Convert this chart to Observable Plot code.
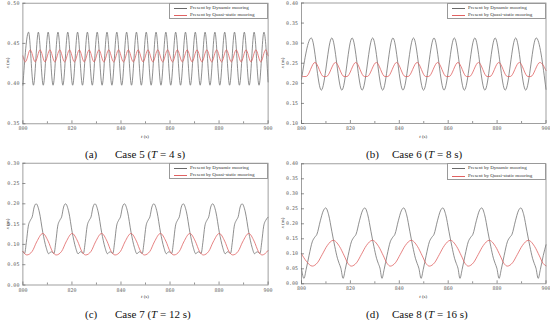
<!DOCTYPE html>
<html><head><meta charset="utf-8">
<script src="https://cdn.jsdelivr.net/npm/d3@7"></script>
<script src="https://cdn.jsdelivr.net/npm/@observablehq/plot@0.6"></script>
<style>
body{margin:0;background:#fff;}
#root{position:relative;width:550px;height:320px;overflow:hidden;background:#fff;}
.panel{position:absolute;width:275px;height:160px;}
.panel svg{position:absolute;left:0;top:0;}
.legend{position:absolute;box-sizing:border-box;border:0.7px solid #999;background:#fff;font-family:"Liberation Serif",serif;font-size:5px;color:#333;}
.legend .row{position:absolute;left:0;right:0;height:6px;line-height:6px;white-space:nowrap;}
.legend .sw{position:absolute;left:4px;width:13px;top:3px;height:0;border-top:0.8px solid #666;}
.legend .tx{position:absolute;left:20px;top:0;}
.ylab{position:absolute;font-family:"Liberation Serif",serif;font-size:5px;color:#333;white-space:nowrap;transform:translate(-50%,-50%) rotate(-90deg);}
.xlab{position:absolute;font-family:"Liberation Serif",serif;font-size:5px;color:#333;white-space:nowrap;transform:translate(-50%,-50%);}
.cap{position:absolute;font-family:"Liberation Serif",serif;font-size:11px;color:#111;white-space:nowrap;line-height:12px;}
</style></head><body><div id="root"></div><script>
// ---------- data ----------
const xTicks = [800, 820, 840, 860, 880, 900];
const xMinor = [810, 830, 850, 870, 890];
const legendLabels = ["Present by Dynamic mooring", "Present by Quasi-static mooring"];
const captionTags = ["(a)", "(b)", "(c)", "(d)"];
const caseNames = ["Case 5", "Case 6", "Case 7", "Case 8"];
const periods = [4, 8, 12, 16];
const yTicksA = [0.35, 0.40, 0.45, 0.50];
const yTicksB = [0.10, 0.15, 0.20, 0.25, 0.30, 0.35, 0.40];
const yTicksC = [0.00, 0.05, 0.10, 0.15, 0.20, 0.25, 0.30];
const yTicksD = [0.00, 0.05, 0.10, 0.15, 0.20, 0.25, 0.30, 0.35, 0.40];

// (a) Case 5
const aDynT = [800, 802.3, 804.3, 806.3, 808.3, 810.3, 812.3, 814.3, 816.3, 818.3, 820.3, 822.3, 824.3, 826.3, 828.3, 830.3, 832.3, 834.3, 836.3, 838.3, 840.3, 842.3, 844.3, 846.3, 848.3, 850.3, 852.3, 854.3, 856.3, 858.3, 860.3, 862.3, 864.3, 866.3, 868.3, 870.3, 872.3, 874.3, 876.3, 878.3, 880.3, 882.3, 884.3, 886.3, 888.3, 890.3, 892.3, 894.3, 896.3, 898.3, 900];
const aDynX = [0.398, 0.464, 0.398, 0.464, 0.398, 0.464, 0.398, 0.464, 0.398, 0.464, 0.398, 0.464, 0.398, 0.464, 0.398, 0.464, 0.398, 0.464, 0.398, 0.464, 0.398, 0.464, 0.398, 0.464, 0.398, 0.464, 0.398, 0.464, 0.398, 0.464, 0.398, 0.464, 0.398, 0.464, 0.398, 0.464, 0.398, 0.464, 0.398, 0.464, 0.398, 0.464, 0.398, 0.464, 0.398, 0.464, 0.398, 0.464, 0.398, 0.464, 0.402];
const aQsT = [800, 801, 803, 805, 807, 809, 811, 813, 815, 817, 819, 821, 823, 825, 827, 829, 831, 833, 835, 837, 839, 841, 843, 845, 847, 849, 851, 853, 855, 857, 859, 861, 863, 865, 867, 869, 871, 873, 875, 877, 879, 881, 883, 885, 887, 889, 891, 893, 895, 897, 899, 900];
const aQsX = [0.4345, 0.427, 0.442, 0.427, 0.442, 0.427, 0.442, 0.427, 0.442, 0.427, 0.442, 0.427, 0.442, 0.427, 0.442, 0.427, 0.442, 0.427, 0.442, 0.427, 0.442, 0.427, 0.442, 0.427, 0.442, 0.427, 0.442, 0.427, 0.442, 0.427, 0.442, 0.427, 0.442, 0.427, 0.442, 0.427, 0.442, 0.427, 0.442, 0.427, 0.442, 0.427, 0.442, 0.427, 0.442, 0.427, 0.442, 0.427, 0.442, 0.427, 0.442, 0.4345];

// (b) Case 6
const bDynT = [800, 804.0, 808.1, 812.4, 816.5, 820.7, 824.8, 829.1, 833.2, 837.4, 841.5, 845.8, 849.9, 854.2, 858.3, 862.5, 866.6, 870.9, 875.0, 879.2, 883.3, 887.6, 891.7, 896.0, 900];
const bDynX = [0.21, 0.313, 0.183, 0.313, 0.183, 0.313, 0.183, 0.313, 0.183, 0.313, 0.183, 0.313, 0.183, 0.313, 0.183, 0.313, 0.183, 0.313, 0.183, 0.313, 0.183, 0.313, 0.183, 0.313, 0.185];
const bQsT = [800, 800.7, 801.9, 805.5, 809.0, 810.2, 813.9, 817.4, 818.6, 822.2, 825.7, 826.9, 830.6, 834.1, 835.3, 838.9, 842.4, 843.6, 847.3, 850.8, 852.0, 855.7, 859.2, 860.4, 864.0, 867.5, 868.7, 872.4, 875.9, 877.1, 880.7, 884.2, 885.4, 889.1, 892.6, 893.8, 897.5, 900];
const bQsX = [0.219, 0.217, 0.217, 0.252, 0.217, 0.217, 0.252, 0.217, 0.217, 0.252, 0.217, 0.217, 0.252, 0.217, 0.217, 0.252, 0.217, 0.217, 0.252, 0.217, 0.217, 0.252, 0.217, 0.217, 0.252, 0.217, 0.217, 0.252, 0.217, 0.217, 0.252, 0.217, 0.217, 0.252, 0.217, 0.217, 0.252, 0.232];

// (c) Case 7
const cDynT = [800, 800.7, 801.4, 802.2, 803.1, 803.8, 804.6, 805.4, 806.7, 808.1, 809.5, 810.5, 811.5,
  812.7, 813.4, 814.2, 815.1, 815.8, 816.6, 817.4, 818.7, 820.1, 821.5, 822.5, 823.5,
  824.7, 825.4, 826.2, 827.1, 827.8, 828.6, 829.4, 830.7, 832.1, 833.5, 834.5, 835.5,
  836.7, 837.4, 838.2, 839.1, 839.8, 840.6, 841.4, 842.7, 844.1, 845.5, 846.5, 847.5,
  848.7, 849.4, 850.2, 851.1, 851.8, 852.6, 853.4, 854.7, 856.1, 857.5, 858.5, 859.5,
  860.7, 861.4, 862.2, 863.1, 863.8, 864.6, 865.4, 866.7, 868.1, 869.5, 870.5, 871.5,
  872.7, 873.4, 874.2, 875.1, 875.8, 876.6, 877.4, 878.7, 880.1, 881.5, 882.5, 883.5,
  884.7, 885.4, 886.2, 887.1, 887.8, 888.6, 889.4, 890.7, 892.1, 893.5, 894.5, 895.5,
  896.7, 897.4, 898.2, 899.1, 900];
const cDynX = [0.082,
  0.078, 0.105, 0.145, 0.160, 0.168, 0.192, 0.200, 0.180, 0.130, 0.092, 0.077, 0.082,
  0.078, 0.105, 0.145, 0.160, 0.168, 0.192, 0.200, 0.180, 0.130, 0.092, 0.077, 0.082,
  0.078, 0.105, 0.145, 0.160, 0.168, 0.192, 0.200, 0.180, 0.130, 0.092, 0.077, 0.082,
  0.078, 0.105, 0.145, 0.160, 0.168, 0.192, 0.200, 0.180, 0.130, 0.092, 0.077, 0.082,
  0.078, 0.105, 0.145, 0.160, 0.168, 0.192, 0.200, 0.180, 0.130, 0.092, 0.077, 0.082,
  0.078, 0.105, 0.145, 0.160, 0.168, 0.192, 0.200, 0.180, 0.130, 0.092, 0.077, 0.082,
  0.078, 0.105, 0.145, 0.160, 0.168, 0.192, 0.200, 0.180, 0.130, 0.092, 0.077, 0.082,
  0.078, 0.105, 0.145, 0.160, 0.168, 0.192, 0.200, 0.180, 0.130, 0.092, 0.077, 0.082,
  0.078, 0.105, 0.145, 0.160, 0.167];
const cQsT = [800, 801.6, 803.8, 805.6, 808.1, 810.3, 812.0, 813.6, 815.8, 817.6, 820.1, 822.3, 824.0, 825.6, 827.8, 829.6, 832.1, 834.3, 836.0, 837.6, 839.8, 841.6, 844.1, 846.3, 848.0, 849.6, 851.8, 853.6, 856.1, 858.3, 860.0, 861.6, 863.8, 865.6, 868.1, 870.3, 872.0, 873.6, 875.8, 877.6, 880.1, 882.3, 884.0, 885.6, 887.8, 889.6, 892.1, 894.3, 896.0, 897.6, 900];
const cQsX = [0.083,
  0.074, 0.083, 0.106, 0.127, 0.108, 0.083,
  0.074, 0.083, 0.106, 0.127, 0.108, 0.083,
  0.074, 0.083, 0.106, 0.127, 0.108, 0.083,
  0.074, 0.083, 0.106, 0.127, 0.108, 0.083,
  0.074, 0.083, 0.106, 0.127, 0.108, 0.083,
  0.074, 0.083, 0.106, 0.127, 0.108, 0.083,
  0.074, 0.083, 0.106, 0.127, 0.108, 0.083,
  0.074, 0.083, 0.106, 0.127, 0.108, 0.083,
  0.074, 0.085];

// (d) Case 8
const dDynT = [800, 801.0, 801.9, 803.1, 804.4, 805.4, 806.3, 807.7, 808.9, 809.9, 811.1, 812.4, 813.6, 814.7, 815.4, 816.1,
  817.0, 817.9, 819.1, 820.4, 821.4, 822.3, 823.7, 824.9, 825.9, 827.1, 828.4, 829.6, 830.7, 831.4, 832.1,
  832.9, 833.8, 835.0, 836.3, 837.3, 838.2, 839.6, 840.8, 841.8, 843.0, 844.3, 845.5, 846.6, 847.3, 848.0,
  848.9, 849.8, 851.0, 852.3, 853.3, 854.2, 855.6, 856.8, 857.8, 859.0, 860.3, 861.5, 862.6, 863.3, 864.0,
  864.8, 865.7, 866.9, 868.2, 869.2, 870.1, 871.5, 872.7, 873.7, 874.9, 876.2, 877.4, 878.5, 879.2, 879.9,
  880.8, 881.7, 882.9, 884.2, 885.2, 886.1, 887.5, 888.7, 889.7, 890.9, 892.2, 893.4, 894.5, 895.2, 895.9,
  896.8, 897.7, 898.9, 900];
const dDynX = [0.05,
  0.018, 0.048, 0.095, 0.140, 0.155, 0.165, 0.210, 0.243, 0.253, 0.230, 0.175, 0.125, 0.085, 0.068, 0.052,
  0.018, 0.048, 0.095, 0.140, 0.155, 0.165, 0.210, 0.243, 0.253, 0.230, 0.175, 0.125, 0.085, 0.068, 0.052,
  0.018, 0.048, 0.095, 0.140, 0.155, 0.165, 0.210, 0.243, 0.253, 0.230, 0.175, 0.125, 0.085, 0.068, 0.052,
  0.018, 0.048, 0.095, 0.140, 0.155, 0.165, 0.210, 0.243, 0.253, 0.230, 0.175, 0.125, 0.085, 0.068, 0.052,
  0.018, 0.048, 0.095, 0.140, 0.155, 0.165, 0.210, 0.243, 0.253, 0.230, 0.175, 0.125, 0.085, 0.068, 0.052,
  0.018, 0.048, 0.095, 0.140, 0.155, 0.165, 0.210, 0.243, 0.253, 0.230, 0.175, 0.125, 0.085, 0.068, 0.052,
  0.018, 0.048, 0.095, 0.130];
const dQsT = [800, 802.0,
  804.4, 806.5, 808.5, 810.5, 813.0, 815.5, 817.5, 819.0,
  820.4, 822.5, 824.5, 826.5, 829.0, 831.5, 833.5, 835.0,
  836.3, 838.4, 840.4, 842.4, 844.9, 847.4, 849.4, 850.9,
  852.3, 854.4, 856.4, 858.4, 860.9, 863.4, 865.4, 866.9,
  868.2, 870.3, 872.3, 874.3, 876.8, 879.3, 881.3, 882.8,
  884.2, 886.3, 888.3, 890.3, 892.8, 895.3, 897.3, 898.8, 900];
const dQsX = [0.100, 0.075,
  0.059, 0.070, 0.098, 0.127, 0.145, 0.125, 0.093, 0.068,
  0.059, 0.070, 0.098, 0.127, 0.145, 0.125, 0.093, 0.068,
  0.059, 0.070, 0.098, 0.127, 0.145, 0.125, 0.093, 0.068,
  0.059, 0.070, 0.098, 0.127, 0.145, 0.125, 0.093, 0.068,
  0.059, 0.070, 0.098, 0.127, 0.145, 0.125, 0.093, 0.068,
  0.059, 0.070, 0.098, 0.127, 0.145, 0.125, 0.093, 0.068, 0.060];

// ---------- layout ----------
const panels = [
  {left: 0, top: 0, ml: 22.4, mr: 7.4, mt: 2.7, mb: 36.7, yDomain: [0.35, 0.50], yTicks: yTicksA, dynT: aDynT, dynX: aDynX, qsT: aQsT, qsX: aQsX, tagX: 85, caseX: 115},
  {left: 275, top: 0, ml: 26, mr: 4.5, mt: 2.5, mb: 37, yDomain: [0.10, 0.40], yTicks: yTicksB, dynT: bDynT, dynX: bDynX, qsT: bQsT, qsX: bQsX, tagX: 91, caseX: 117},
  {left: 0, top: 160, ml: 22.4, mr: 7.4, mt: 2.7, mb: 35.5, yDomain: [0.00, 0.30], yTicks: yTicksC, dynT: cDynT, dynX: cDynX, qsT: cQsT, qsX: cQsX, tagX: 85, caseX: 115},
  {left: 275, top: 160, ml: 26, mr: 4.5, mt: 3.3, mb: 36.7, yDomain: [0.00, 0.40], yTicks: yTicksD, dynT: dDynT, dynX: dDynX, qsT: dQsT, qsX: dQsX, tagX: 91, caseX: 117}
];
const DYN = "#6a6a6a", QS = "#e06262";
const root = document.getElementById("root");

panels.forEach((p, i) => {
  const div = document.createElement("div");
  div.className = "panel";
  div.style.left = p.left + "px";
  div.style.top = p.top + "px";
  const W = 275, H = 160;
  const svg = Plot.plot({
    width: W, height: H,
    marginLeft: p.ml, marginRight: p.mr, marginTop: p.mt, marginBottom: p.mb,
    style: {fontFamily: "DejaVu Sans Mono", fontSize: "5px", color: "#666", background: "transparent", overflow: "visible"},
    x: {domain: [800, 900], label: null},
    y: {domain: p.yDomain, label: null},
    marks: [
      Plot.line(p.dynT, {x: p.dynT, y: p.dynX, stroke: DYN, strokeWidth: 0.75, curve: "monotone-x"}),
      Plot.line(p.qsT, {x: p.qsT, y: p.qsX, stroke: QS, strokeWidth: 0.8, curve: "monotone-x"}),
      Plot.frame({stroke: "#888", strokeWidth: 0.8}),
      Plot.axisX({ticks: xTicks, tickSize: -3, tickPadding: 6, tickFormat: d3.format("d"), strokeWidth: 0.7}),
      Plot.axisX({ticks: xMinor, tickSize: -2, tickPadding: 6, tickFormat: () => "", strokeWidth: 0.7}),
      Plot.axisY({ticks: p.yTicks, tickSize: -3, tickPadding: 6.5, tickFormat: d3.format(".2f"), strokeWidth: 0.7})
    ]
  });
  div.appendChild(svg);

  const plotRight = W - p.mr, plotBottom = H - p.mb;
  // legend
  const lg = document.createElement("div");
  lg.className = "legend";
  const lgW = 98.5, lgH = 16.3;
  lg.style.left = (plotRight - lgW) + "px";
  lg.style.top = p.mt + "px";
  lg.style.width = lgW + "px";
  lg.style.height = lgH + "px";
  legendLabels.forEach((lab, j) => {
    const row = document.createElement("div");
    row.className = "row";
    row.style.top = (1 + j * 7.5) + "px";
    row.innerHTML = `<span class="sw" style="border-top-color:${j ? QS : DYN}"></span><span class="tx">${lab}</span>`;
    lg.appendChild(row);
  });
  div.appendChild(lg);

  // axis titles
  const yl = document.createElement("div");
  yl.className = "ylab";
  yl.style.left = "7px";
  yl.style.top = ((p.mt + plotBottom) / 2) + "px";
  yl.innerHTML = "<i>x</i> (m)";
  div.appendChild(yl);
  const xl = document.createElement("div");
  xl.className = "xlab";
  xl.style.left = ((p.ml + plotRight) / 2) + "px";
  xl.style.top = "136px";
  xl.innerHTML = "<i>t</i> (s)";
  div.appendChild(xl);

  // caption
  const c1 = document.createElement("div");
  c1.className = "cap";
  c1.style.left = p.tagX + "px";
  c1.style.top = "147.5px";
  c1.textContent = captionTags[i];
  div.appendChild(c1);
  const c2 = document.createElement("div");
  c2.className = "cap";
  c2.style.left = p.caseX + "px";
  c2.style.top = "147.5px";
  c2.innerHTML = `${caseNames[i]} (<i>T</i> = ${periods[i]} s)`;
  div.appendChild(c2);

  root.appendChild(div);
});
</script></body></html>
